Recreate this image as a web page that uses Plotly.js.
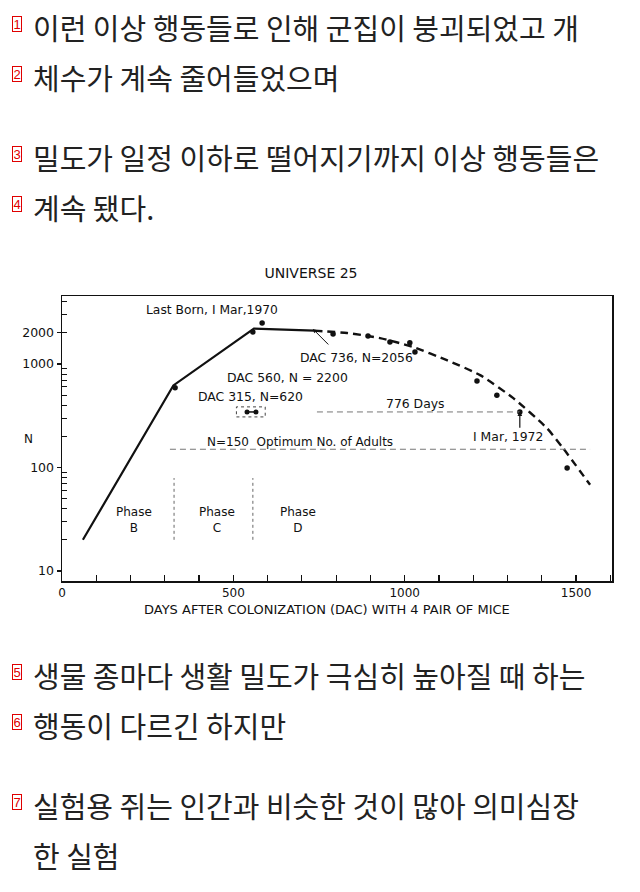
<!DOCTYPE html>
<html>
<head>
<meta charset="utf-8">
<script src="https://cdn.plot.ly/plotly-3.0.1.min.js"></script>
<style>html,body{margin:0;padding:0;background:#fff;}#chart{width:640px;height:892px;}</style>
</head>
<body>
<div id="chart"></div>
<script>
// ---- data ----
const solidDays = [61, 325, 560, 736];
const solidN = [20, 620, 2200, 2100];
const dashDays = [736, 832, 928, 1024, 1123, 1220, 1316, 1415, 1462, 1541];
const dashN = [2100, 1990, 1780, 1460, 1090, 780, 470, 240, 154, 68];
const obsDays = [330, 557, 584, 791, 893, 957, 1015, 1030, 1211, 1269, 1336, 1474];
const obsN = [590, 2040, 2490, 1950, 1860, 1630, 1600, 1306, 685, 500, 344, 99];
const boxDotDays = [540, 566];
const boxDotN = [344, 344];
const boxDays = [509, 593, 593, 509, 509];
const boxN = [308, 308, 385, 385, 308];
const optimumDays = [315, 1541];
const optimumN = [150, 150];
const span776Days = [744, 1336];
const span776N = [344, 344];
const phaseBoundaryDays = [327, 557];
const phaseBoundaryN = [20, 79];
const phaseNames = ['B', 'C', 'D'];
const xTickVals = [0, 500, 1000, 1500];
const yTickVals = [10, 100, 1000, 2000];
const yTickText = ['10', '100', '1000', '2000'];
const textLines = [
  '이런 이상 행동들로 인해 군집이 붕괴되었고 개',
  '체수가 계속 줄어들었으며',
  '밀도가 일정 이하로 떨어지기까지 이상 행동들은',
  '계속 됐다.',
  '생물 종마다 생활 밀도가 극심히 높아질 때 하는',
  '행동이 다르긴 하지만',
  '실험용 쥐는 인간과 비슷한 것이 많아 의미심장',
  '한 실험'
];
const lineNumbers = ['1', '2', '3', '4', '5', '6', '7', ''];

// ---- layout helpers (pixel -> paper) ----
const L = 62, R = 612, T = 296, B = 581;
const px = x => (x - L) / (R - L);
const py = y => (B - y) / (B - T);
const ink = '#111';
const chartFont = 'DejaVu Sans, sans-serif';
const krFont = '"Noto Sans CJK KR", "Noto Sans", sans-serif';
const lineY = [27, 77, 157, 207, 675, 725, 805, 855];

const minorY = [];
[10, 100, 1000].forEach(d => { for (let k = 2; k <= 9; k++) minorY.push(d * k); });

const traces = [
  {x: solidDays, y: solidN, mode: 'lines', line: {color: ink, width: 2.2}, hoverinfo: 'skip'},
  {x: dashDays, y: dashN, mode: 'lines', line: {color: ink, width: 2.4, dash: '8px,5px', shape: 'spline', smoothing: 0.6}, hoverinfo: 'skip'},
  {x: obsDays, y: obsN, mode: 'markers', marker: {color: ink, size: 5.5}},
  {x: boxDotDays, y: boxDotN, mode: 'lines+markers', line: {color: ink, width: 1.5}, marker: {color: ink, size: 5}},
  {x: boxDays, y: boxN, mode: 'lines', line: {color: '#444', width: 1, dash: 'dot'}},
  {x: optimumDays, y: optimumN, mode: 'lines', line: {color: '#777', width: 1, dash: '6px,4px'}},
  {x: span776Days, y: span776N, mode: 'lines', line: {color: '#777', width: 1, dash: '6px,4px'}},
  {x: [phaseBoundaryDays[0], phaseBoundaryDays[0]], y: phaseBoundaryN, mode: 'lines', line: {color: '#666', width: 1, dash: 'dot'}},
  {x: [phaseBoundaryDays[1], phaseBoundaryDays[1]], y: phaseBoundaryN, mode: 'lines', line: {color: '#666', width: 1, dash: 'dot'}}
];

const annotations = [];
function txt(text, x, y, size, opts) {
  annotations.push(Object.assign({text: text, xref: 'paper', yref: 'paper', x: px(x), y: py(y),
    xanchor: 'center', yanchor: 'middle', showarrow: false,
    font: {family: chartFont, size: size, color: ink}}, opts || {}));
}
txt('Last Born, I Mar,1970', 212, 310, 12.3);
txt('DAC 560, N = 2200', 287, 377, 12.4);
txt('DAC 315, N=620', 250, 396, 12.4);
txt('DAC 736, N=2056', 356, 357, 12.4);
txt('776 Days', 415, 403, 12.4);
txt('I Mar, 1972', 508, 436, 12.4);
txt('N=150  Optimum No. of Adults', 300, 442, 12);
txt('N', 28, 439, 12);
txt('DAYS AFTER COLONIZATION (DAC) WITH 4 PAIR OF MICE', 327, 609, 13);
const phaseX = [134, 217, 298];
phaseNames.forEach((p, i) => txt('Phase<br>' + p, phaseX[i], 520, 12));

// arrows
annotations.push({x: 732, y: Math.log10(2180), xref: 'x', yref: 'y', text: '', showarrow: true,
  ax: 17, ay: 17, arrowhead: 2, arrowsize: 0.8, arrowwidth: 1, arrowcolor: ink});
annotations.push({x: 1336, y: Math.log10(350), xref: 'x', yref: 'y', text: '', showarrow: true,
  ax: 0, ay: 18, arrowhead: 2, arrowsize: 0.8, arrowwidth: 1.2, arrowcolor: ink});

// Korean text lines and numbered red boxes
textLines.forEach((t, i) => {
  annotations.push({text: t, xref: 'paper', yref: 'paper', x: px(31), y: py(lineY[i]),
    xanchor: 'left', yanchor: 'middle', showarrow: false,
    font: {family: krFont, size: 29, color: '#222'}});
  if (lineNumbers[i]) {
    annotations.push({text: lineNumbers[i], xref: 'paper', yref: 'paper', x: px(17), y: py(lineY[i] - 3),
      xanchor: 'center', yanchor: 'middle', showarrow: false,
      font: {family: 'Liberation Sans, sans-serif', size: 13, color: '#e00000'},
      bordercolor: '#e00000', borderwidth: 1, borderpad: 0, width: 8, height: 14});
  }
});

const layout = {
  width: 640, height: 892,
  margin: {l: L, r: 640 - R, t: T, b: 892 - B},
  paper_bgcolor: '#fff', plot_bgcolor: '#fff',
  showlegend: false,
  title: {text: 'UNIVERSE 25', font: {family: chartFont, size: 14, color: ink},
    xref: 'paper', x: px(311), xanchor: 'center', yref: 'container', y: 1 - 273 / 892, yanchor: 'middle'},
  xaxis: {range: [0, 1605], tickvals: xTickVals, ticks: 'inside', ticklen: 6, tickwidth: 1.2, tickcolor: ink,
    minor: {dtick: 100, ticks: 'inside', ticklen: 6, tickwidth: 1.2, tickcolor: ink},
    showgrid: false, zeroline: false, showline: true, mirror: true, linecolor: ink, linewidth: 1.5,
    ticklabelstandoff: 0,
    tickfont: {family: chartFont, size: 12, color: ink}},
  yaxis: {type: 'log', range: [0.903, 3.657], tickvals: yTickVals, ticktext: yTickText,
    ticks: 'outside', ticklen: 4, tickwidth: 1.2, tickcolor: ink, ticklabelstandoff: 0,
    minor: {tickvals: minorY, ticks: 'inside', ticklen: 5, tickwidth: 1, tickcolor: ink},
    showgrid: false, zeroline: false, showline: true, mirror: true, linecolor: ink, linewidth: 1.5,
    tickfont: {family: chartFont, size: 12.5, color: ink}},
  annotations: annotations
};

Plotly.newPlot('chart', traces, layout, {staticPlot: true, displayModeBar: false});
</script>
</body>
</html>
